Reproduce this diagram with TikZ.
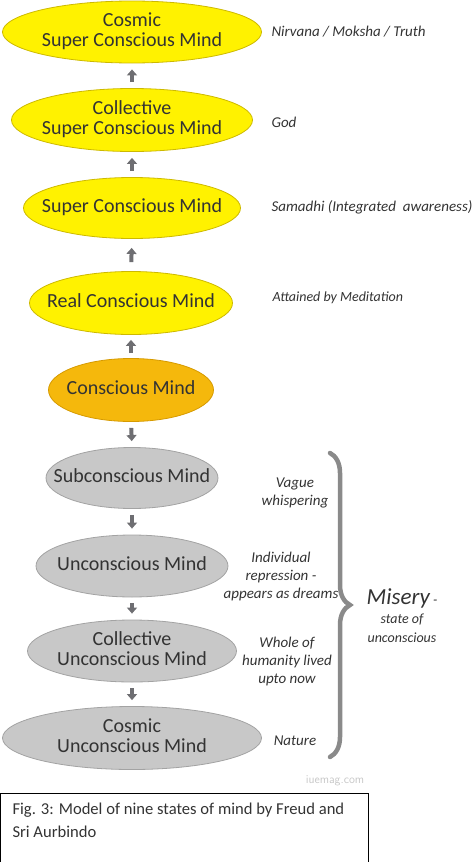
\documentclass[tikz,border=0pt]{standalone}
\usepackage{fontspec}
\setmainfont{Carlito}
\usetikzlibrary{shapes.geometric, arrows.meta, decorations.pathreplacing}

\definecolor{superyellow}{HTML}{FFF200}
\definecolor{superedge}{HTML}{CDB900}
\definecolor{consorange}{HTML}{F5B80C}
\definecolor{consedge}{HTML}{D69A00}
\definecolor{subgray}{HTML}{C8C8C8}
\definecolor{subedge}{HTML}{A3A3A3}
\definecolor{arrowgray}{HTML}{6E6E72}
\definecolor{textdark}{HTML}{333333}

% text of a level, kept out of the ellipse size
\newcommand*\mindtext[1]{\makebox[0pt]{\begin{tabular}{@{}c@{}}#1\end{tabular}}}

\tikzset{
    mind/.style={ellipse, draw, line width=0.8pt, inner sep=0pt,
        text=textdark, font=\fontsize{20}{20}\selectfont},
    supermind/.style={mind, fill=superyellow, draw=superedge},
    consmind/.style={mind, fill=consorange, draw=consedge},
    submind/.style={mind, fill=subgray, draw=subedge},
    note/.style={align=center, text=textdark, font=\fontsize{15}{18}\selectfont\itshape},
    flowarrow/.style={-{Triangle[length=6pt, width=10pt]}, line width=4pt, arrowgray,
        shorten <=#1, shorten >=#1},
    flowarrow/.default=6pt
}

\begin{document}
\begin{tikzpicture}[x=1pt, y=-1pt]
        \useasboundingbox (0,0) rectangle (474,862);

        % super conscious levels
        \node[supermind, minimum width=259, minimum height=62] (cosmicsup) at (132,32) {\mindtext{Cosmic\\Super Conscious Mind}};
        \node[supermind, minimum width=241, minimum height=63] (collsup) at (132,120) {\mindtext{Collective\\Super Conscious Mind}};
        \node[supermind, minimum width=217, minimum height=61] (sup) at (132,208) {\mindtext{Super Conscious Mind}};
        \node[supermind, minimum width=203, minimum height=63] (real) at (131,303) {\mindtext{Real Conscious Mind}};
        \node[consmind, minimum width=165, minimum height=63] (cons) at (131,390) {\mindtext{Conscious Mind}};

        % unconscious levels
        \node[submind, minimum width=172, minimum height=61] (subc) at (132,478) {\mindtext{Subconscious Mind}};
        \node[submind, minimum width=192, minimum height=62] (unc) at (132,566) {\mindtext{Unconscious Mind}};
        \node[submind, minimum width=209, minimum height=62] (collunc) at (132,651) {\mindtext{Collective\\Unconscious Mind}};
        \node[submind, minimum width=259, minimum height=63] (cosmicunc) at (132,738) {\mindtext{Cosmic\\Unconscious Mind}};

        \draw[flowarrow] (collsup.north) -- (cosmicsup.south);
        \draw[flowarrow] (sup.north) -- (collsup.south);
        \draw[flowarrow=9pt] (real.north) -- (sup.south);
        \draw[flowarrow=5pt] (cons.north) -- (real.south);
        \draw[flowarrow] (cons.south) -- (subc.north);
        \draw[flowarrow] (subc.south) -- (unc.north);
        \draw[flowarrow] (unc.south) -- (collunc.north);
        \draw[flowarrow] (collunc.south) -- (cosmicunc.north);

        % side notes
        \node[note, anchor=west] (nirvana) at (268,32) {Nirvana / Moksha / Truth};
        \node[note, anchor=west] (god) at (268,122) {God};
        \node[note, anchor=west] (samadhi) at (268,207) {Samadhi (Integrated\ \ awareness)};
        \node[note, anchor=west, font=\fontsize{14}{17}\selectfont\itshape] (medit) at (269,298) {Attained by Meditation};
        \node[note] (vague) at (295,493) {Vague\\whispering};
        \node[note] (repress) at (281,576) {Individual\\repression -\\appears as dreams};
        \node[note] (whole) at (287,661) {Whole of\\humanity lived\\upto now};
        \node[note] (nature) at (295,741) {Nature};

        % brace over the unconscious levels
        \draw[decorate, decoration={brace, amplitude=20pt}, line width=4.5pt, subedge!85!black,
            line cap=round] (330,453) -- (330,757);
        \node[align=center, text=textdark, font=\fontsize{14}{19}\selectfont\itshape] (misery) at (402,616)
            {{\fontsize{23}{24}\selectfont Misery} -\\state of\\unconscious};

        \node[text=black!22, font=\fontsize{12}{14}\selectfont\sffamily] (mark) at (335,781) {iuemag.com};

        % caption
        \draw[line width=1pt] (0,793) rectangle (368,862);
        \node[anchor=north west, align=left, text=textdark, font=\fontsize{16.6}{23}\selectfont] (caption) at (9,799)
            {Fig. 3: Model of nine states of mind by Freud and\\Sri Aurbindo};
    \end{tikzpicture}
\end{document}
